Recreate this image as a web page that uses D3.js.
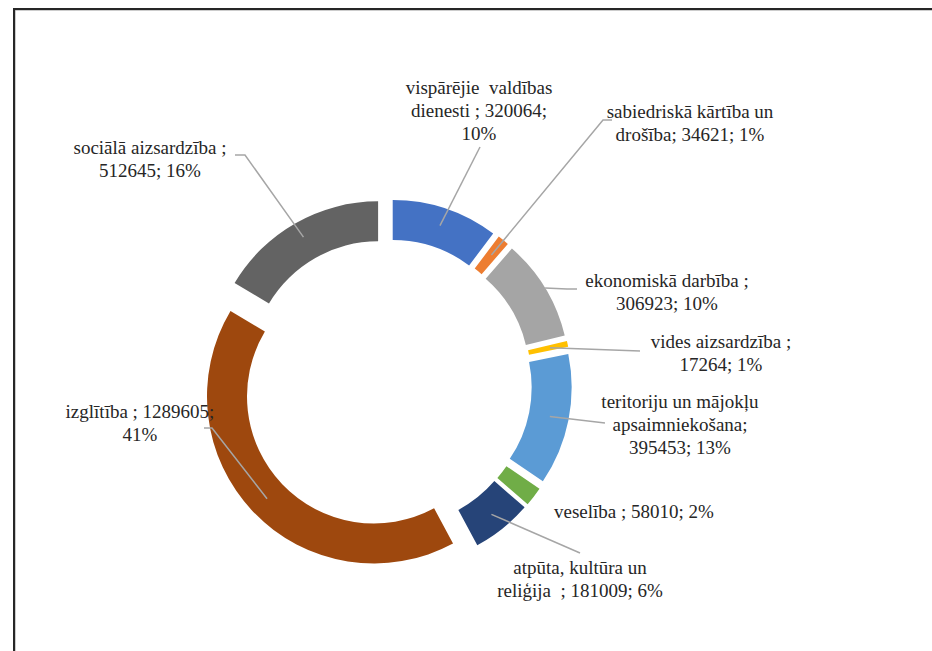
<!DOCTYPE html>
<html>
<head>
<meta charset="utf-8">
<script src="https://cdn.jsdelivr.net/npm/d3@7/dist/d3.min.js"></script>
<style>
  html, body { margin: 0; padding: 0; background: #ffffff; }
  svg { display: block; }
</style>
</head>
<body>
<svg id="chart" width="932" height="651" font-family="Liberation Serif"></svg>
<script>
// ---- data ----
const categories = [
  "vispārējie valdības dienesti",
  "sabiedriskā kārtība un drošība",
  "ekonomiskā darbība",
  "vides aizsardzība",
  "teritoriju un mājokļu apsaimniekošana",
  "veselība",
  "atpūta, kultūra un reliģija",
  "izglītība",
  "sociālā aizsardzība"
];
const values = [320064, 34621, 306923, 17264, 395453, 58010, 181009, 1289605, 512645];
// label text lines; {v} = value, {p} = percentage
const labelLines = [
  ["vispārējie\u00a0\u00a0valdības", "dienesti ; {v};", "{p}"],
  ["sabiedriskā kārtība un", "drošība; {v}; {p}"],
  ["ekonomiskā darbība ;", "{v}; {p}"],
  ["vides aizsardzība ;", "{v}; {p}"],
  ["teritoriju un mājokļu", "apsaimniekošana;", "{v}; {p}"],
  ["veselība ; {v}; {p}"],
  ["atpūta, kultūra un", "reliģija\u00a0\u00a0; {v}; {p}"],
  ["izglītība ; {v};", "{p}"],
  ["sociālā aizsardzība ;", "{v}; {p}"]
];

// ---- layout / style ----
const colors = ["#4472C4", "#ED7D31", "#A5A5A5", "#FFC000", "#5B9BD5", "#70AD47", "#264478", "#9E480E", "#636363"];
const cx = 387, cy = 384, outerR = 167, innerR = 127, explode = 18;
// label layout: centre x, first baseline y, leader anchor radius, leader path points after anchor
const labelLayout = [
  {x: 479, y: 94,  anchorR: 149, pts: [[480, 147]]},
  {x: 690, y: 118, anchorR: 148, pts: [[603, 120], [612, 120]]},
  {x: 667, y: 287, anchorR: 167, pts: [[567, 289], [577, 289]]},
  {x: 721, y: 348, anchorR: 149, pts: [[640, 351]]},
  {x: 680, y: 408, anchorR: 148, pts: [[605, 423]]},
  {x: 634, y: 518, anchorR: null, pts: []},
  {x: 580, y: 574, anchorR: 149, pts: [[580, 553]]},
  {x: 140, y: 418, anchorR: 148, pts: [[212, 428], [204, 428]]},
  {x: 150, y: 154, anchorR: 151, pts: [[245, 155], [235, 155]]}
];
const lineH = 23;

const svg = d3.select("#chart");

// frame
svg.append("path").attr("d", "M15,651 V10 H932").attr("fill", "none").attr("stroke", "#9a9a9a").attr("stroke-width", 1);
svg.append("path").attr("d", "M14,651 V9 H932").attr("fill", "none").attr("stroke", "#262626").attr("stroke-width", 2);

const total = d3.sum(values);
const pie = d3.pie().sort(null).value(d => d).startAngle(0).endAngle(2 * Math.PI);
const arcs = pie(values);
const arc = d3.arc().innerRadius(innerR).outerRadius(outerR);

const g = svg.append("g").attr("transform", `translate(${cx},${cy})`);

function offset(a) {
  const m = (a.startAngle + a.endAngle) / 2;
  return [explode * Math.sin(m), -explode * Math.cos(m)];
}

g.selectAll("path.slice")
  .data(arcs)
  .join("path")
  .attr("class", "slice")
  .attr("d", arc)
  .attr("fill", (d, i) => colors[i])
  .attr("transform", d => { const o = offset(d); return `translate(${o[0]},${o[1]})`; });

// leader lines
const line = d3.line();
arcs.forEach((a, i) => {
  const L = labelLayout[i];
  if (L.anchorR == null) return;
  const o = offset(a);
  const m = (a.startAngle + a.endAngle) / 2;
  const ax = cx + o[0] + L.anchorR * Math.sin(m);
  const ay = cy + o[1] - L.anchorR * Math.cos(m);
  svg.append("path")
    .attr("d", line([[ax, ay], ...L.pts]))
    .attr("fill", "none")
    .attr("stroke", "#a6a6a6")
    .attr("stroke-width", 1.5);
});

// labels
const fmtP = v => Math.round(v / total * 100) + "%";
arcs.forEach((a, i) => {
  const L = labelLayout[i];
  labelLines[i].forEach((s, k) => {
    const str = s.replace("{v}", String(values[i])).replace("{p}", fmtP(values[i]));
    svg.append("text")
      .attr("x", L.x)
      .attr("y", L.y + k * lineH)
      .attr("text-anchor", "middle")
      .attr("font-family", "Liberation Serif")
      .attr("font-size", 19)
      .attr("fill", "#262626")
      .text(str);
  });
});
</script>
</body>
</html>
